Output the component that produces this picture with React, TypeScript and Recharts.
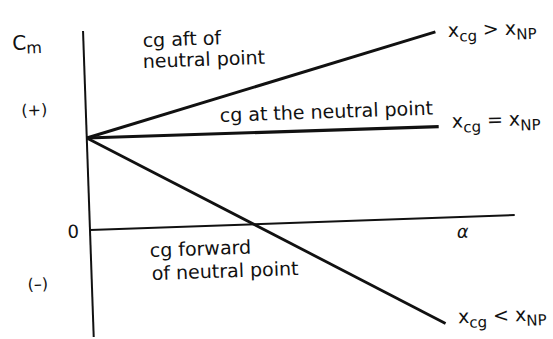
import React from "react";
import { LineChart, Line, XAxis, YAxis, ReferenceLine, ReferenceDot } from "recharts";

// angle of attack (alpha) at the start and end of each line
const alpha = [0, 10];
// pitching moment coefficient Cm for each cg position
const cgAft = [1, 2.02];
const cgNeutral = [1, 0.99];
const cgForward = [1, -1.15];

const xDomain = [0, 12.07];
const yDomain = [-1.165, 2.164];

type Ann = { a: number; c: number; text: string; kind?: string };
const annotations: Ann[] = [
  { a: 1.684, c: 1.967, text: "cg aft of" },
  { a: 1.664, c: 1.739, text: "neutral point" },
  { a: 3.797, c: 1.124, text: "cg at the neutral point" },
  { a: 1.676, c: -0.317, text: "cg forward" },
  { a: 1.71, c: -0.568, text: "of neutral point" },
  { a: 10.355, c: 1.961, text: ">", kind: "rel" },
  { a: 10.38, c: 0.972, text: "=", kind: "rel" },
  { a: 10.358, c: -1.152, text: "<", kind: "rel" },
  { a: 10.41, c: -0.227, text: "α", kind: "alpha" },
  { a: -2.02, c: 1.985, text: "C", kind: "cm" },
  { a: -1.829, c: 1.264, text: "(+)", kind: "sign" },
  { a: -0.636, c: -0.079, text: "0", kind: "zero" },
  { a: -1.823, c: -0.629, text: "(–)", kind: "sign" },
];

const data = alpha.map((a, i) => ({
  alpha: a,
  aft: cgAft[i],
  neutral: cgNeutral[i],
  forward: cgForward[i],
}));

const FONT = "'DejaVu Sans', sans-serif";
const INK = "#111";

function renderText(ann: Ann) {
  return (props: any) => {
    const { cx, cy } = props;
    if (ann.kind === "rel") {
      return (
        <text x={cx} y={cy} fontFamily={FONT} fontSize={19} fill={INK}>
          <tspan>x</tspan>
          <tspan dy={5} fontSize={15}>cg</tspan>
          <tspan dy={-5}>{` ${ann.text} x`}</tspan>
          <tspan dy={5} fontSize={15}>NP</tspan>
        </text>
      );
    }
    if (ann.kind === "cm") {
      return (
        <text x={cx} y={cy} fontFamily={FONT} fontSize={20} fill={INK}>
          <tspan>C</tspan>
          <tspan dy={4} fontSize={16}>m</tspan>
        </text>
      );
    }
    if (ann.kind === "alpha") {
      return (
        <text x={cx} y={cy} fontFamily={FONT} fontSize={18} fontStyle="italic" fill={INK}>
          {ann.text}
        </text>
      );
    }
    if (ann.kind === "sign") {
      return (
        <text x={cx} y={cy} fontFamily={FONT} fontSize={16} fill={INK}>
          {ann.text}
        </text>
      );
    }
    if (ann.kind === "zero") {
      return (
        <text x={cx} y={cy} fontFamily={FONT} fontSize={18} fill={INK}>
          {ann.text}
        </text>
      );
    }
    return (
      <text x={cx} y={cy} fontFamily={FONT} fontSize={19} fill={INK}>
        {ann.text}
      </text>
    );
  };
}

export default function App() {
  return (
    <div
      style={{
        position: "absolute",
        left: 0,
        top: 0,
        width: 553,
        height: 339,
        background: "#fff",
        transform: "rotate(-2deg)",
        transformOrigin: "276px 170px",
      }}
    >
      <LineChart
        width={553}
        height={339}
        data={data}
        margin={{ top: 24.3, right: 40, bottom: 8.4, left: 88 }}
      >
        <XAxis dataKey="alpha" type="number" domain={xDomain} hide />
        <YAxis type="number" domain={yDomain} hide />
        <ReferenceLine x={0} stroke={INK} strokeWidth={2} />
        <ReferenceLine y={0} stroke={INK} strokeWidth={2} />
        <Line dataKey="aft" stroke={INK} strokeWidth={3} dot={false} isAnimationActive={false} />
        <Line dataKey="neutral" stroke={INK} strokeWidth={3.2} dot={false} isAnimationActive={false} />
        <Line dataKey="forward" stroke={INK} strokeWidth={2.8} dot={false} isAnimationActive={false} />
        {annotations.map((ann, i) => (
          <ReferenceDot
            key={i}
            x={ann.a}
            y={ann.c}
            r={0}
            ifOverflow="visible"
            shape={renderText(ann)}
          />
        ))}
      </LineChart>
    </div>
  );
}
